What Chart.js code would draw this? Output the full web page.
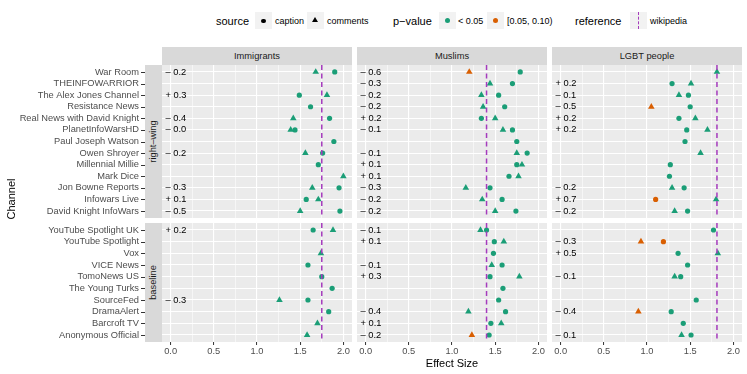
<!DOCTYPE html>
<html>
<head>
<meta charset="utf-8">
<script src="https://cdn.jsdelivr.net/npm/chart.js@4"></script>
<style>
  body { margin: 0; background: #fff; font-family: "Liberation Sans", Arial, sans-serif; }
  #fig { position: relative; width: 747px; height: 374px; overflow: hidden; }
  #fig canvas { position: absolute; }
  .abs { position: absolute; white-space: nowrap; }
  .strip { position: absolute; background: #d9d9d9; color: #1a1a1a; font-size: 9.3px; text-align: center; white-space: nowrap; }
</style>
</head>
<body>
<div id="fig"></div>
<script>
// Facets
const TARGETS   = ['Immigrants', 'Muslims', 'LGBT people'];
const GROUPS    = ['right\u2013wing', 'baseline'];
const WIKIPEDIA = [1.75, 1.40, 1.81];   // reference effect size per target

const RIGHT_WING = ['War Room', 'THEINFOWARRIOR', 'The Alex Jones Channel', 'Resistance News',
  'Real News with David Knight', 'PlanetInfoWarsHD', 'Paul Joseph Watson', 'Owen Shroyer',
  'Millennial Millie', 'Mark Dice', 'Jon Bowne Reports', 'Infowars Live', 'David Knight InfoWars'];
const BASELINE = ['YouTube Spotlight UK', 'YouTube Spotlight', 'Vox', 'VICE News', 'TomoNews US',
  'The Young Turks', 'SourceFed', 'DramaAlert', 'Barcroft TV', 'Anonymous Official'];

// Effect sizes, one per channel (null = not shown)
const IMM_RW_CAPTION  = [1.90, null, 1.49, 1.62, 1.84, 1.44, 1.89, 1.76, 1.71, null, 1.95, 1.57, 1.96];
const IMM_RW_COMMENTS = [1.68, null, 1.81, null, 1.42, 1.39, null, 1.56, null, 2.00, 1.64, 1.71, 1.50];
const IMM_RW_DIFF     = ['\u2013 0.2', '', '+ 0.3', '', '\u2013 0.4', '\u2013 0.0', '', '\u2013 0.2', '', '', '\u2013 0.3', '+ 0.1', '\u2013 0.5'];
const IMM_BL_CAPTION  = [1.65, null, null, 1.59, 1.75, 1.87, 1.59, 1.83, null, null];
const IMM_BL_COMMENTS = [1.88, null, 1.74, null, null, null, 1.26, null, 1.70, 1.58];
const IMM_BL_DIFF     = ['+ 0.2', '', '', '', '', '', '\u2013 0.3', '', '', ''];

const MUS_RW_CAPTION  = [1.79, 1.70, 1.54, 1.61, 1.34, 1.70, 1.75, 1.87, 1.75, 1.66, 1.44, 1.58, 1.74];
const MUS_RW_COMMENTS = [1.20, 1.44, 1.34, 1.36, 1.50, 1.59, null, 1.75, 1.81, 1.77, 1.16, 1.35, 1.50];
const MUS_RW_DIFF     = ['\u2013 0.6', '\u2013 0.3', '\u2013 0.2', '\u2013 0.2', '+ 0.2', '\u2013 0.1', '', '\u2013 0.1', '+ 0.1', '+ 0.1', '\u2013 0.3', '\u2013 0.2', '\u2013 0.2'];
const MUS_BL_CAPTION  = [1.40, 1.49, 1.48, 1.58, 1.44, 1.59, 1.54, 1.62, 1.45, 1.43];
const MUS_BL_COMMENTS = [1.33, 1.60, null, 1.46, 1.78, null, null, 1.19, 1.57, 1.23];
const MUS_BL_DIFF     = ['\u2013 0.1', '+ 0.1', '', '\u2013 0.1', '+ 0.3', '', '', '\u2013 0.4', '+ 0.1', '\u2013 0.2'];

const LGB_RW_CAPTION  = [null, 1.29, 1.48, 1.50, 1.37, 1.46, 1.44, null, 1.27, 1.26, 1.43, 1.10, 1.47];
const LGB_RW_COMMENTS = [1.81, 1.51, 1.37, 1.05, 1.56, 1.70, null, 1.62, null, null, 1.29, 1.80, 1.32];
const LGB_RW_DIFF     = ['', '+ 0.2', '\u2013 0.1', '\u2013 0.5', '+ 0.2', '+ 0.2', '', '', '', '', '\u2013 0.2', '+ 0.7', '\u2013 0.2'];
const LGB_BL_CAPTION  = [1.77, 1.19, 1.36, 1.47, 1.39, null, 1.57, 1.28, 1.42, 1.51];
const LGB_BL_COMMENTS = [null, 0.93, 1.82, null, 1.32, null, null, 0.90, null, 1.40];
const LGB_BL_DIFF     = ['', '\u2013 0.3', '+ 0.5', '', '\u2013 0.1', '', '', '\u2013 0.4', '', '\u2013 0.1'];

// points with p-value in [0.05, 0.10) — target|source|channel
const WEAK_P = [
  'Muslims|comments|War Room',
  'Muslims|comments|Anonymous Official',
  'LGBT people|comments|Resistance News',
  'LGBT people|caption|Infowars Live',
  'LGBT people|comments|YouTube Spotlight',
  'LGBT people|caption|YouTube Spotlight',
  'LGBT people|comments|DramaAlert',
];

const X_TICKS  = [0, 0.25, 0.5, 0.75, 1, 1.25, 1.5, 1.75, 2];
const X_LABELS = ['0.0', '', '0.5', '', '1.0', '', '1.5', '', '2.0'];

const GREEN = '#1b9e77';
const ORANGE = '#d95f02';
const REF_COLOR = '#a53bbd';
const PANEL_BG = '#ebebeb';
const TEXT_GREY = '#4d4d4d';

// layout (px)
const COL_X = [162, 357, 552], COL_W = 190;
const ROW_Y = [65, 223], ROW_H = [153, 119];
const AXIS_W = 162, AXIS_H = 20;

Chart.defaults.font.family = '"Liberation Sans", Arial, sans-serif';

const fig = document.getElementById('fig');

function el(cls, css, text) {
  const d = document.createElement('div');
  d.className = cls;
  Object.assign(d.style, css);
  if (text != null) d.textContent = text;
  fig.appendChild(d);
  return d;
}

function decor(channels, diff, ref, tickMarks) {
  return {
    id: 'decor',
    beforeDraw(chart) {
      const a = chart.chartArea, ctx = chart.ctx;
      ctx.save();
      ctx.fillStyle = PANEL_BG;
      ctx.fillRect(a.left, a.top, a.right - a.left, a.bottom - a.top);
      ctx.restore();
    },
    afterDatasetsDraw(chart) {
      const a = chart.chartArea, ctx = chart.ctx;
      const x = chart.scales.x.getPixelForValue(ref);
      ctx.save();
      ctx.strokeStyle = REF_COLOR;
      ctx.lineWidth = 1.5;
      ctx.setLineDash([5, 3.5]);
      ctx.beginPath();
      ctx.moveTo(x, a.top);
      ctx.lineTo(x, a.bottom);
      ctx.stroke();
      ctx.restore();
    },
    afterDraw(chart) {
      const ctx = chart.ctx, xs = chart.scales.x, ys = chart.scales.y;
      ctx.save();
      ctx.fillStyle = '#000';
      ctx.font = '9.3px "Liberation Sans", Arial, sans-serif';
      ctx.textAlign = 'left';
      ctx.textBaseline = 'middle';
      diff.forEach((t, i) => {
        if (t) ctx.fillText(t, xs.getPixelForValue(-0.06), ys.getPixelForValue(i));
      });
      if (tickMarks) {
        ctx.strokeStyle = '#333';
        ctx.lineWidth = 1;
        channels.forEach((_, i) => {
          const y = Math.round(ys.getPixelForValue(i)) + 0.5;
          ctx.beginPath();
          ctx.moveTo(141, y);
          ctx.lineTo(145, y);
          ctx.stroke();
        });
      }
      ctx.restore();
    },
  };
}

function panel(col, row, channels, caption, comments, diff) {
  const target = TARGETS[col];
  const showY = col === 0, showX = row === 1;
  const left = showY ? 0 : COL_X[col];
  const width = COL_W + (showY ? AXIS_W : 0);
  const height = ROW_H[row] + (showX ? AXIS_H : 0);

  const cv = document.createElement('canvas');
  cv.width = width; cv.height = height;
  cv.style.left = left + 'px'; cv.style.top = ROW_Y[row] + 'px';
  cv.style.width = width + 'px'; cv.style.height = height + 'px';
  fig.appendChild(cv);

  function build(values, source) {
    const data = [], colors = [];
    values.forEach((v, i) => {
      if (v == null) return;
      data.push({ x: v, y: i });
      colors.push(WEAK_P.includes(target + '|' + source + '|' + channels[i]) ? ORANGE : GREEN);
    });
    return { data, colors };
  }
  const cap = build(caption, 'caption');
  const com = build(comments, 'comments');

  new Chart(cv, {
    type: 'scatter',
    data: {
      datasets: [
        { label: 'caption', data: cap.data, pointStyle: 'circle', pointRadius: 2.6,
          backgroundColor: cap.colors, borderWidth: 0, pointBorderWidth: 0 },
        { label: 'comments', data: com.data, pointStyle: 'triangle', pointRadius: 3.8,
          backgroundColor: com.colors, borderWidth: 0, pointBorderWidth: 0 },
      ],
    },
    options: {
      responsive: false,
      animation: false,
      events: [],
      layout: { padding: 0, autoPadding: false },
      plugins: { legend: { display: false }, tooltip: { enabled: false } },
      scales: {
        x: {
          type: 'linear', min: -0.1, max: 2.1, bounds: 'data',
          border: { display: false },
          afterBuildTicks: (s) => { s.ticks = X_TICKS.map((v) => ({ value: v })); },
          afterFit: (s) => { s.height = showX ? AXIS_H : 0; s.paddingLeft = 0; s.paddingRight = 0; },
          grid: {
            color: '#fff',
            lineWidth: (c) => (X_LABELS[c.index] ? 1.1 : 0.55),
            drawTicks: showX,
            tickLength: 3,
            tickWidth: 1,
            tickColor: (c) => (X_LABELS[c.index] ? '#333' : 'rgba(0,0,0,0)'),
          },
          ticks: {
            display: showX, autoSkip: false, maxRotation: 0, padding: 1,
            color: TEXT_GREY, font: { size: 9.3 },
            callback: (v, i) => X_LABELS[i],
          },
        },
        y: {
          type: 'linear', reverse: true, min: -0.6, max: channels.length - 0.4, bounds: 'data',
          border: { display: false },
          afterBuildTicks: (s) => { s.ticks = channels.map((_, i) => ({ value: i })); },
          afterFit: (s) => { s.width = showY ? AXIS_W : 0; s.paddingTop = 0; s.paddingBottom = 0; },
          grid: { color: '#fff', lineWidth: 1.1, drawTicks: false },
          ticks: {
            display: showY, autoSkip: false, padding: 23,
            color: TEXT_GREY, font: { size: 9.3 },
            callback: (v) => channels[v],
          },
        },
      },
    },
    plugins: [decor(channels, diff, WIKIPEDIA[col], showY)],
  });
}

panel(0, 0, RIGHT_WING, IMM_RW_CAPTION, IMM_RW_COMMENTS, IMM_RW_DIFF);
panel(0, 1, BASELINE,   IMM_BL_CAPTION, IMM_BL_COMMENTS, IMM_BL_DIFF);
panel(1, 0, RIGHT_WING, MUS_RW_CAPTION, MUS_RW_COMMENTS, MUS_RW_DIFF);
panel(1, 1, BASELINE,   MUS_BL_CAPTION, MUS_BL_COMMENTS, MUS_BL_DIFF);
panel(2, 0, RIGHT_WING, LGB_RW_CAPTION, LGB_RW_COMMENTS, LGB_RW_DIFF);
panel(2, 1, BASELINE,   LGB_BL_CAPTION, LGB_BL_COMMENTS, LGB_BL_DIFF);

// facet strips
TARGETS.forEach((t, c) => {
  el('strip', { left: COL_X[c] + 'px', top: '47px', width: COL_W + 'px', height: '18px', lineHeight: '18px' }, t);
});
GROUPS.forEach((g, r) => {
  const h = ROW_H[r], w = 17;
  el('strip', {
    left: (145 + w / 2 - h / 2) + 'px', top: (ROW_Y[r] + h / 2 - w / 2) + 'px',
    width: h + 'px', height: w + 'px', lineHeight: w + 'px', transform: 'rotate(-90deg)',
  }, g);
});

// axis titles
el('abs', { left: '352px', width: '200px', textAlign: 'center', top: '357px', fontSize: '11px', color: '#000' }, 'Effect Size');
el('abs', { left: '-39px', top: '192px', width: '100px', height: '14px', lineHeight: '14px', textAlign: 'center',
  fontSize: '11px', color: '#000', transform: 'rotate(-90deg)' }, 'Channel');

// legend
const LEG_Y = 20.7;
function legText(t, x, size) {
  el('abs', { left: x + 'px', top: (LEG_Y - 10) + 'px', height: '20px', lineHeight: '20px', fontSize: size + 'px', color: '#000' }, t);
}
function keyBox(x) {
  el('abs', { left: x + 'px', top: '12px', width: '17px', height: '17px', background: '#f2f2f2' });
  return x + 8.5;
}
function dot(cx, r, color) {
  el('abs', { left: (cx - r) + 'px', top: (LEG_Y - r) + 'px', width: 2 * r + 'px', height: 2 * r + 'px', borderRadius: '50%', background: color });
}

legText('source', 216, 11);
dot(keyBox(255), 2.1, '#000');
legText('caption', 275, 9);
{
  const cx = keyBox(307);
  el('abs', { left: (cx - 3.4) + 'px', top: (LEG_Y - 3.4) + 'px', width: 0, height: 0,
    borderLeft: '3.4px solid transparent', borderRight: '3.4px solid transparent', borderBottom: '5.8px solid #000' });
}
legText('comments', 327, 9);
legText('p\u2212value', 393, 11);
dot(keyBox(439), 2.6, GREEN);
legText('< 0.05', 458, 9);
dot(keyBox(487), 2.6, ORANGE);
legText('[0.05, 0.10)', 507, 9);
legText('reference', 575, 11);
{
  const cx = keyBox(630);
  el('abs', { left: (cx - 0.75) + 'px', top: '12px', width: 0, height: '17px', borderLeft: '1.5px dashed ' + REF_COLOR });
}
legText('wikipedia', 650, 9);
</script>
</body>
</html>
